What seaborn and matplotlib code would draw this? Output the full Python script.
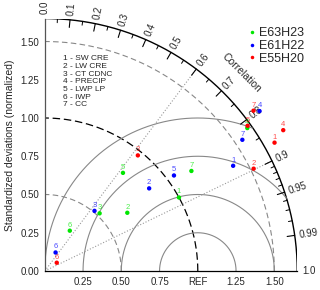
import numpy as np
import pandas as pd
import matplotlib
matplotlib.use("Agg")
import matplotlib.pyplot as plt
import seaborn as sns

models = ["E63H23", "E61H22", "E55H20"]
model_colors = ["#00e600", "#0000ff", "#ff0000"]
variables = ["SW CRE", "LW CRE", "CT CDNC", "PRECIP", "LWP LP", "IWP", "CC"]

# normalized std dev and correlation per variable (1..7)
std_e63h23 = [1.00, 0.66, 0.52, 1.62, 0.82, 0.31, 1.16]
corr_e63h23 = [0.877, 0.817, 0.689, 0.817, 0.623, 0.527, 0.826]
std_e61h22 = [1.41, 0.87, 0.51, 1.75, 1.05, 0.14, 1.55]
corr_e61h22 = [0.873, 0.784, 0.637, 0.802, 0.804, 0.503, 0.833]
std_e55h20 = [1.72, 1.52, 0.97, 1.81, 1.63, 0.095, 1.72]
corr_e55h20 = [0.873, 0.898, 0.627, 0.861, 0.813, 0.822, 0.793]

std_ticks = [0.0, 0.25, 0.5, 0.75, 1.0, 1.25, 1.5]
x_tick_labels = ["0.25", "0.50", "0.75", "REF", "1.25", "1.50"]
corr_labels = [0.0, 0.1, 0.2, 0.3, 0.4, 0.5, 0.6, 0.7, 0.8, 0.9, 0.95, 0.99, 1.0]
corr_minor = [0.05, 0.15, 0.25, 0.35, 0.45, 0.55, 0.65, 0.75, 0.85,
              0.91, 0.92, 0.93, 0.94, 0.96, 0.97, 0.98]
corr_rays = [0.6, 0.9]
std_arcs = [0.5, 1.0, 1.5]
rms_circles = [0.25, 0.5, 0.75, 1.0]
R_MAX = 1.65

rows = []
for m, s, c in [(models[0], std_e63h23, corr_e63h23),
                (models[1], std_e61h22, corr_e61h22),
                (models[2], std_e55h20, corr_e55h20)]:
    for i in range(len(variables)):
        rows.append({"model": m, "num": i + 1, "std": s[i], "corr": c[i]})
df = pd.DataFrame(rows)
df["theta"] = np.arccos(df["corr"])
df["x"] = df["std"] * np.cos(df["theta"])
df["y"] = df["std"] * np.sin(df["theta"])

sns.set_style("white")
plt.rcParams["font.family"] = ["Liberation Sans", "DejaVu Sans"]

fig = plt.figure(figsize=(3.2, 2.9), dpi=100)
ax = fig.add_axes([44.8 / 320, 19 / 290, 252.45 / 320, 252.45 / 290])


def clipped_arc(r, cx=0.0):
    t = np.linspace(0, np.pi, 600)
    x = cx + r * np.cos(t)
    y = r * np.sin(t)
    bad = (x < 0) | (np.hypot(x, y) > R_MAX)
    x[bad] = np.nan
    y[bad] = np.nan
    return x, y


# outer correlation arc
t = np.linspace(0, np.pi / 2, 300)
ax.plot(R_MAX * np.cos(t), R_MAX * np.sin(t), color="black", lw=1.0)

# std dev arcs
for r in std_arcs:
    x, y = clipped_arc(r)
    if r == 1.0:
        ax.plot(x, y, color="black", lw=0.9, ls=(0, (6, 3)))
    else:
        ax.plot(x, y, color="#888888", lw=0.8, ls=(0, (5, 3)))

# centred RMS circles around REF
for r in rms_circles:
    x, y = clipped_arc(r, cx=1.0)
    ax.plot(x, y, color="#888888", lw=0.8)

# correlation rays
for c in corr_rays:
    th = np.arccos(c)
    ax.plot([0, R_MAX * np.cos(th)], [0, R_MAX * np.sin(th)],
            color="#999999", lw=0.8, ls=":")

# correlation ticks and labels
for c in corr_labels:
    th = np.arccos(c)
    if 0 < c < 1:
        ax.plot([R_MAX * np.cos(th), (R_MAX - 0.05) * np.cos(th)],
                [R_MAX * np.sin(th), (R_MAX - 0.05) * np.sin(th)],
                color="black", lw=0.8)
    ax.text(1.68 * np.cos(th), 1.68 * np.sin(th), f"{c:g}" if c not in (0.0, 1.0) else f"{c:.1f}",
            rotation=np.degrees(th), rotation_mode="anchor",
            ha="left", va="center", fontsize=7, clip_on=False)
for c in corr_minor:
    th = np.arccos(c)
    ax.plot([R_MAX * np.cos(th), (R_MAX - 0.025) * np.cos(th)],
            [R_MAX * np.sin(th), (R_MAX - 0.025) * np.sin(th)],
            color="black", lw=0.7)
ax.text(1.82 * np.cos(np.pi / 4), 1.83 * np.sin(np.pi / 4), "Correlation",
        rotation=-45, ha="center", va="center", fontsize=7.5, clip_on=False)

# model points
sns.scatterplot(data=df, x="x", y="y", hue="model", hue_order=models,
                palette=dict(zip(models, model_colors)), marker="o", s=10,
                linewidth=0, ax=ax, clip_on=False, zorder=5)
for _, row in df.iterrows():
    ax.annotate(str(row["num"]), (row["x"], row["y"]), xytext=(0, 1.5),
                textcoords="offset points", ha="center", va="bottom",
                fontsize=5.5, color=dict(zip(models, model_colors))[row["model"]],
                alpha=0.7, annotation_clip=False)

sns.move_legend(ax, "upper left", bbox_to_anchor=(0.775, 0.985), frameon=False,
                title=None, fontsize=9, handletextpad=0.1, labelspacing=0.05,
                borderaxespad=0, handlelength=1.0, markerscale=0.8)

ax.text(0.072, 0.855, "\n".join(f"{i + 1} - {v}" for i, v in enumerate(variables)),
        transform=ax.transAxes, fontsize=6, va="top", ha="left", linespacing=1.14)

ax.set_xlim(0, R_MAX)
ax.set_ylim(0, R_MAX)
ax.set_xticks(std_ticks[1:])
ax.set_xticklabels(x_tick_labels)
ax.set_yticks(std_ticks)
ax.set_yticklabels([f"{v:.2f}" for v in std_ticks])
ax.tick_params(direction="in", length=4, width=0.8, labelsize=7, pad=4)
ax.set_xlabel("")
ax.set_ylabel("Standardized deviations (normalized)", fontsize=7.5, labelpad=4)
for side in ["top", "right"]:
    ax.spines[side].set_visible(False)
ax.spines["left"].set_color("#555555")
ax.spines["bottom"].set_color("black")
ax.spines["left"].set_linewidth(0.9)
ax.spines["bottom"].set_linewidth(0.9)

fig.savefig("out.png", dpi=100)
